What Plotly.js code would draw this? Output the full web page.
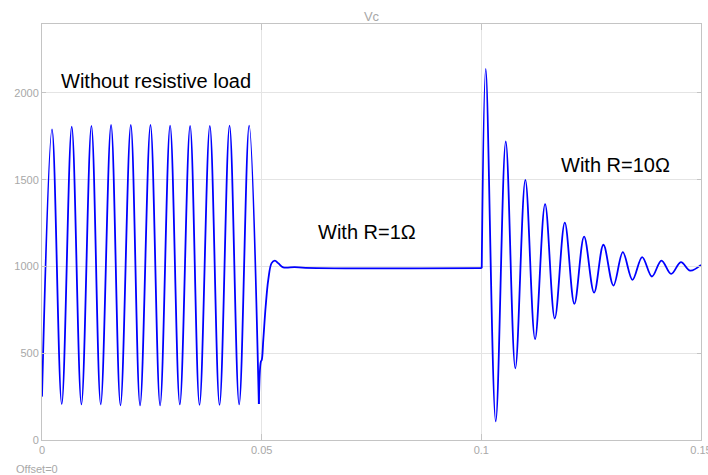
<!DOCTYPE html>
<html>
<head>
<meta charset="utf-8">
<script src="https://cdn.plot.ly/plotly-3.0.1.min.js"></script>
<style>html,body{margin:0;padding:0;background:#fff;}#chart{width:708px;height:475px;}</style>
</head>
<body>
<div id="chart"></div>
<script>
// Without resistive load: extremes of the oscillation (time s, Vc)
var tNoLoad = [0, 0.00228, 0.00449, 0.00677, 0.00897, 0.01125, 0.01337, 0.01572, 0.01786, 0.02021, 0.02232, 0.02469, 0.02688, 0.02916, 0.03137, 0.03371, 0.03585, 0.03820, 0.04041, 0.04269, 0.04487, 0.04715, 0.04936];
var vNoLoad = [250, 1790, 207, 1805, 205, 1810, 205, 1815, 200, 1815, 200, 1815, 200, 1812, 205, 1810, 202, 1810, 202, 1812, 205, 1812, 207];

// With R = 1 ohm
var tR1 = [0.04936, 0.04982, 0.05002, 0.05037, 0.05091, 0.05150, 0.05226, 0.05300, 0.05376, 0.05490, 0.0575, 0.0600, 0.10009];
var vR1 = [207, 452, 461, 577, 769, 923, 1019, 1034, 1019, 995, 996, 992, 990];

// With R = 10 ohm
var tR10 = [0.10009, 0.10100, 0.10328, 0.10556, 0.10774, 0.11002, 0.11223, 0.11451, 0.11672, 0.11900, 0.12118, 0.12339, 0.12567, 0.12779, 0.13007, 0.13221, 0.13440, 0.13661, 0.13882, 0.14100, 0.14321, 0.14542, 0.14754, 0.15];
var vR10 = [990, 2138, 108, 1720, 413, 1499, 581, 1359, 700, 1253, 784, 1172, 849, 1125, 890, 1082, 923, 1054, 942, 1034, 957, 1025, 976, 1009];

var xTicks = [0, 0.05, 0.1, 0.15];
var xTickText = ['0', '0.05', '0.1', '0.15'];
var yTicks = [0, 500, 1000, 1500, 2000];
var yTickText = ['0', '500', '1000', '1500', '2000'];

var labels = [
  {text: 'Without resistive load', x: 0.02604, y: 2069},
  {text: 'With R=1Ω', x: 0.07391, y: 1196},
  {text: 'With R=10Ω', x: 0.13062, y: 1585}
];

var lineStyle = {color: '#0000ff', width: 1.8, shape: 'spline'};
var traces = [
  {x: tNoLoad, y: vNoLoad, mode: 'lines', line: lineStyle, hoverinfo: 'skip'},
  {x: tR1, y: vR1, mode: 'lines', line: lineStyle, hoverinfo: 'skip'},
  {x: tR10, y: vR10, mode: 'lines', line: lineStyle, hoverinfo: 'skip'}
];

var gray = '#a8a8a8';
var font = 'Liberation Sans, Arial, sans-serif';
var annotations = labels.map(function (a) {
  return {text: a.text, x: a.x, y: a.y, xref: 'x', yref: 'y', showarrow: false,
          xanchor: 'center', yanchor: 'middle', font: {family: font, size: 20, color: '#000'}};
});
annotations.push({text: 'Offset=0', xref: 'paper', yref: 'paper', x: -0.0425, y: -0.0697,
  xanchor: 'left', yanchor: 'middle', showarrow: false, font: {family: font, size: 11, color: gray}});

var layout = {
  width: 708, height: 475,
  margin: {l: 42, r: 7, t: 24, b: 35, pad: 0},
  paper_bgcolor: '#fff', plot_bgcolor: '#fff',
  showlegend: false,
  font: {family: font, size: 11, color: gray},
  title: {text: 'Vc', x: 0.5, xref: 'paper', xanchor: 'center', y: 0.966, yref: 'container', yanchor: 'middle',
          font: {family: font, size: 13, color: gray}},
  xaxis: {range: [0, 0.1500001], tickvals: xTicks, ticktext: xTickText, showgrid: true, gridcolor: '#e4e4e4', gridwidth: 1,
          showline: true, linecolor: '#c4c4c4', linewidth: 1, mirror: 'ticks', ticks: 'inside', ticklen: 6,
          tickcolor: '#c4c4c4', zeroline: false, ticklabeloverflow: 'allow',
          tickfont: {family: font, size: 11, color: gray}},
  yaxis: {range: [0, 2397], tickvals: yTicks, ticktext: yTickText, showgrid: true, gridcolor: '#e4e4e4', gridwidth: 1,
          showline: true, linecolor: '#c4c4c4', linewidth: 1, mirror: 'ticks', ticks: 'inside', ticklen: 4,
          tickcolor: '#c4c4c4', zeroline: false, tickfont: {family: font, size: 11, color: gray}},
  annotations: annotations
};

Plotly.newPlot('chart', traces, layout, {staticPlot: true, displayModeBar: false});
</script>
</body>
</html>
